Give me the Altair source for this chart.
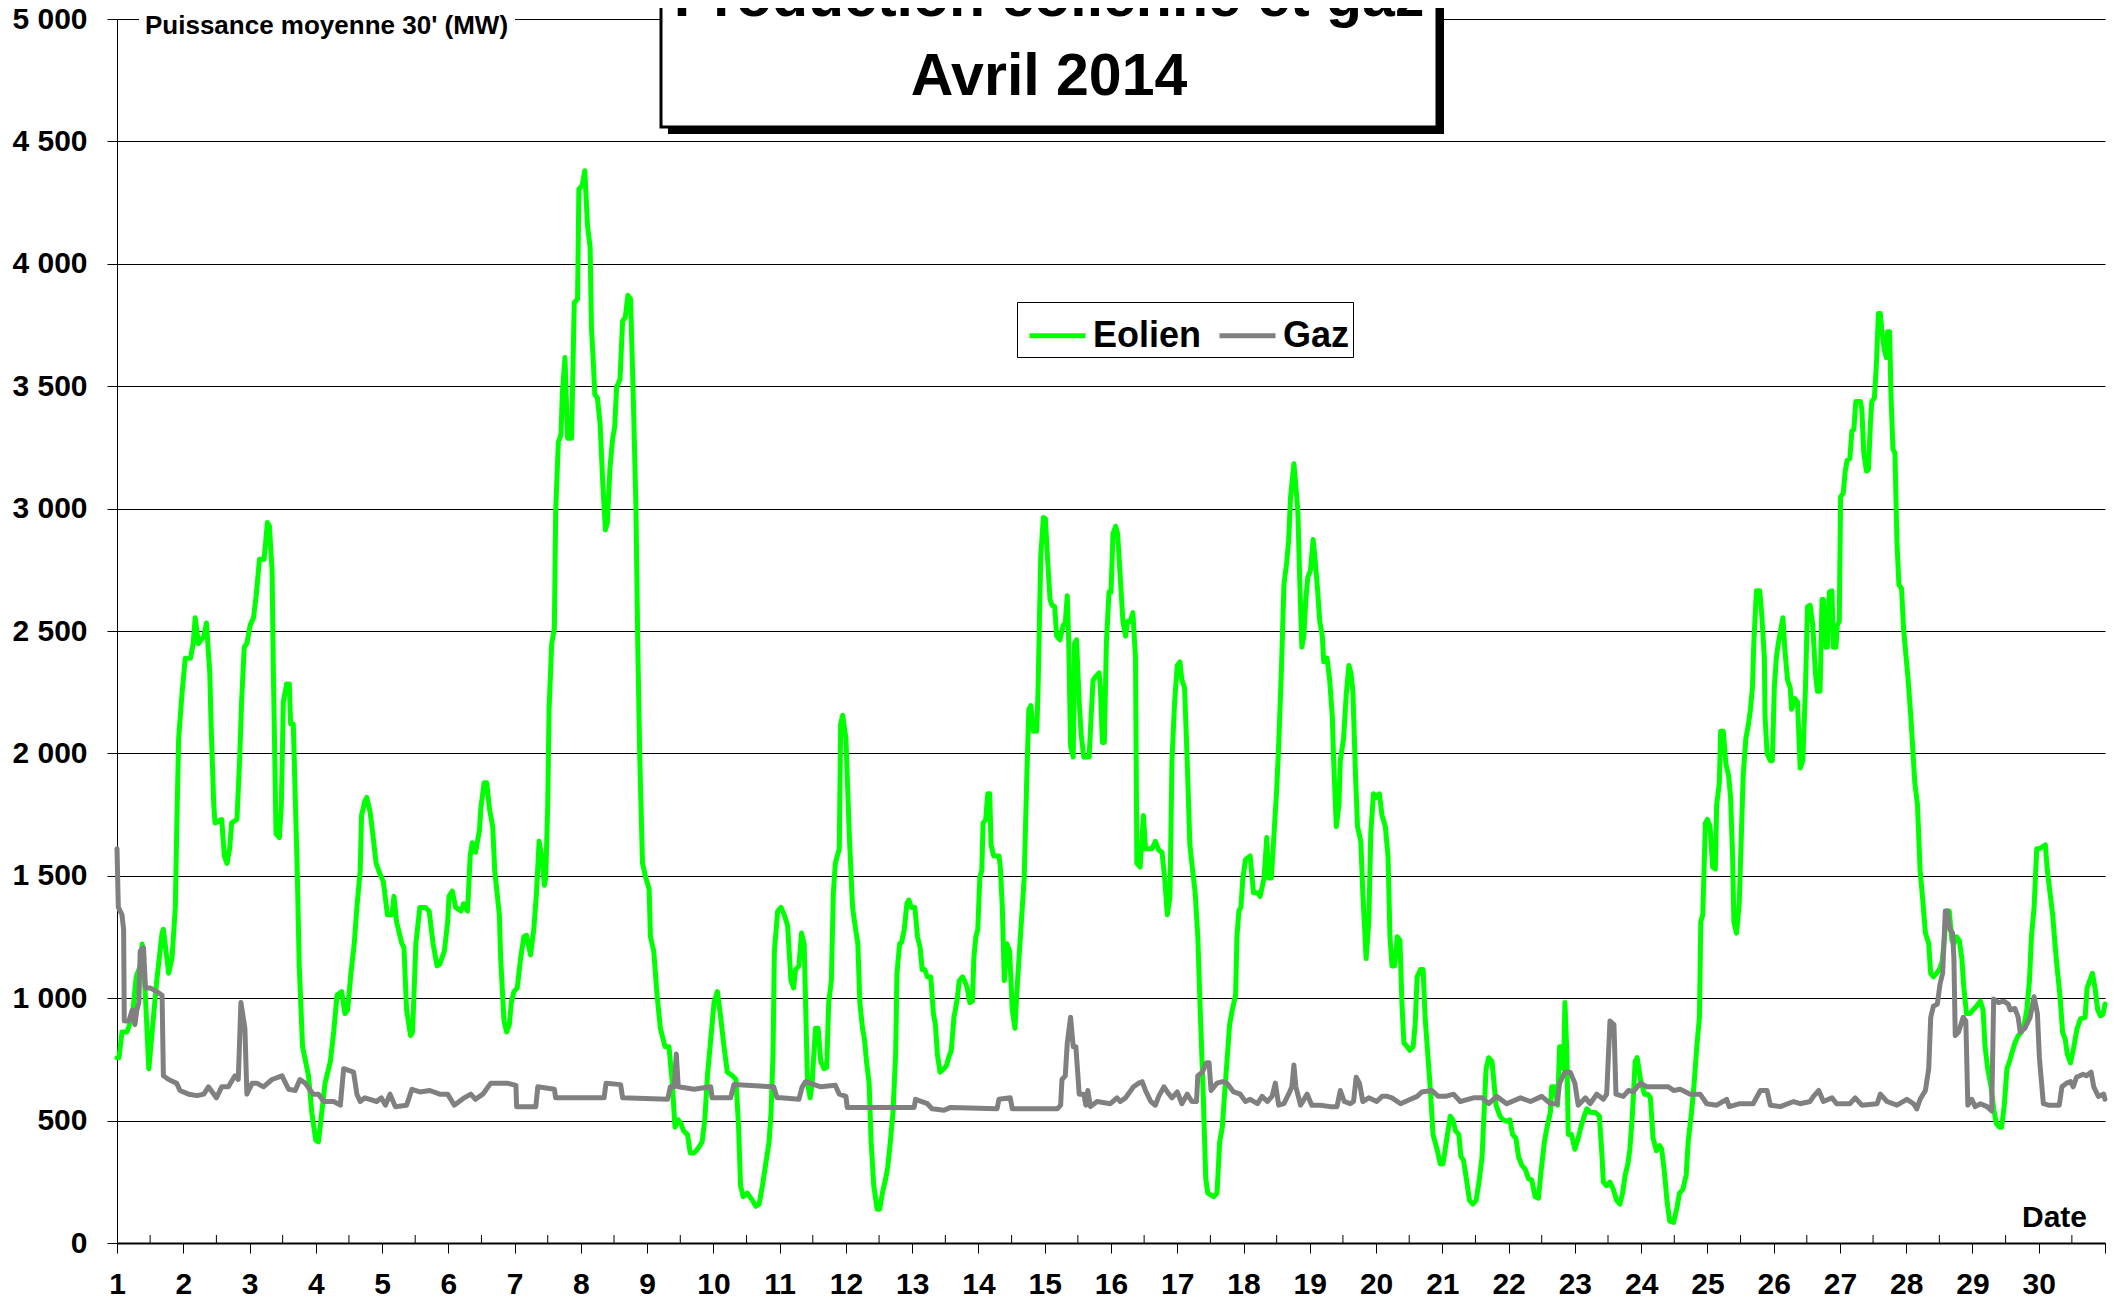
import altair as alt
import pandas as pd

# ---------------- data (day of April, MW) ----------------
day_ticks = list(range(1, 32))
half_days = [d + 0.5 for d in range(1, 31)]
mw_ticks = list(range(0, 5001, 500))
series_names = ["Eolien", "Gaz"]
series_colors = ["#00ff00", "#808080"]

eolien = [
    (1.00, 757), (1.03, 757), (1.075, 862), (1.15, 862), (1.23, 922), (1.29, 1087), (1.35, 1132), (1.38, 1221),
    (1.43, 1000), (1.48, 712), (1.55, 922), (1.60, 1072), (1.68, 1266), (1.70, 1281), (1.78, 1102), (1.83, 1162),
    (1.88, 1371), (1.90, 1671), (1.93, 2060), (1.98, 2240), (2.03, 2389), (2.11, 2389), (2.15, 2449), (2.18, 2554),
    (2.23, 2449), (2.31, 2479), (2.35, 2533), (2.40, 2329), (2.42, 2120), (2.46, 1790), (2.48, 1716), (2.58, 1730),
    (2.62, 1581), (2.66, 1551), (2.70, 1611), (2.73, 1716), (2.81, 1730), (2.85, 1970), (2.88, 2210), (2.92, 2434),
    (2.96, 2449), (3.01, 2524), (3.06, 2554), (3.10, 2644), (3.15, 2793), (3.22, 2793), (3.27, 2943), (3.30, 2928),
    (3.34, 2748), (3.36, 2329), (3.40, 1671), (3.45, 1656), (3.48, 1790), (3.51, 2210), (3.56, 2284), (3.60, 2284),
    (3.62, 2120), (3.66, 2120), (3.69, 1820), (3.72, 1521), (3.75, 1132), (3.80, 802), (3.89, 683), (3.94, 533),
    (4.00, 419), (4.04, 413), (4.09, 533), (4.14, 653), (4.22, 742), (4.27, 862), (4.32, 1012), (4.39, 1027),
    (4.44, 937), (4.48, 952), (4.53, 1102), (4.58, 1222), (4.62, 1371), (4.67, 1521), (4.69, 1746), (4.74, 1805),
    (4.77, 1820), (4.82, 1760), (4.86, 1671), (4.91, 1551), (4.97, 1506), (5.02, 1476), (5.08, 1341), (5.15, 1341),
    (5.18, 1416), (5.22, 1311), (5.30, 1222), (5.33, 1207), (5.37, 952), (5.43, 847), (5.46, 862), (5.51, 1222),
    (5.57, 1371), (5.65, 1371), (5.71, 1356), (5.77, 1222), (5.83, 1132), (5.87, 1138),
    (5.94, 1192), (5.99, 1311), (6.01, 1416), (6.06, 1437), (6.11, 1371), (6.19, 1356), (6.23, 1386), (6.29, 1356),
    (6.33, 1581), (6.36, 1635), (6.41, 1596), (6.47, 1686), (6.49, 1775), (6.54, 1880), (6.58, 1880), (6.62, 1775),
    (6.67, 1701), (6.70, 1521), (6.77, 1341), (6.79, 1162), (6.84, 907), (6.88, 862), (6.92, 892), (6.95, 982),
    (6.99, 1027), (7.04, 1042), (7.09, 1162), (7.14, 1251), (7.18, 1257), (7.24, 1177), (7.29, 1281), (7.33, 1431),
    (7.37, 1641), (7.41, 1581), (7.45, 1461), (7.47, 1491), (7.50, 1790), (7.52, 2180), (7.56, 2449), (7.60, 2509),
    (7.62, 2988), (7.66, 3272), (7.70, 3302), (7.72, 3467), (7.76, 3617), (7.80, 3287), (7.86, 3287), (7.90, 3841),
    (7.95, 3856), (7.97, 4305), (8.02, 4320), (8.06, 4380), (8.10, 4156), (8.14, 4066), (8.16, 3737), (8.19, 3587),
    (8.21, 3467), (8.25, 3452), (8.29, 3347), (8.33, 3108), (8.37, 2913), (8.40, 2943), (8.44, 3168), (8.48, 3287),
    (8.51, 3332), (8.54, 3497), (8.59, 3527), (8.63, 3766), (8.67, 3781), (8.71, 3871), (8.75, 3856), (8.79, 3467),
    (8.83, 3018), (8.86, 2419), (8.89, 1970), (8.93, 1551), (8.98, 1491), (9.03, 1446), (9.05, 1251), (9.10, 1192),
    (9.15, 1012), (9.20, 877), (9.27, 802), (9.33, 802), (9.38, 653), (9.42, 473), (9.47, 503), (9.51, 488),
    (9.55, 458), (9.61, 443), (9.65, 368), (9.71, 368), (9.76, 383), (9.83, 413), (9.87, 503), (9.91, 683),
    (9.97, 862), (10.01, 982), (10.06, 1027), (10.11, 922), (10.16, 802), (10.21, 698), (10.29, 683), (10.34, 668),
    (10.38, 473), (10.41, 234), (10.45, 189), (10.51, 204), (10.59, 174), (10.64, 150), (10.69, 159), (10.74, 234),
    (10.79, 323), (10.84, 413), (10.87, 533), (10.90, 772), (10.92, 1192), (10.97, 1356),
    (11.02, 1371), (11.07, 1341), (11.12, 1296), (11.17, 1072), (11.21, 1042), (11.24, 1117), (11.29, 1132),
    (11.33, 1266), (11.37, 1222), (11.42, 653), (11.46, 593), (11.49, 653), (11.54, 877), (11.58, 877), (11.62, 742),
    (11.67, 712), (11.71, 718), (11.74, 982), (11.78, 1072), (11.81, 1431), (11.84, 1551), (11.90, 1611),
    (11.92, 2120), (11.95, 2156), (12.00, 2060), (12.05, 1671), (12.10, 1371), (12.13, 1311), (12.18, 1222),
    (12.21, 982), (12.25, 877), (12.28, 832), (12.31, 742), (12.35, 653), (12.38, 413), (12.42, 234), (12.47, 138),
    (12.51, 138), (12.55, 204), (12.60, 263), (12.63, 308), (12.67, 413), (12.71, 533), (12.75, 772), (12.77, 1102),
    (12.81, 1222), (12.84, 1228), (12.88, 1281), (12.92, 1386), (12.95, 1401), (12.99, 1371), (13.04, 1371),
    (13.08, 1251), (13.12, 1207), (13.15, 1117), (13.19, 1117), (13.23, 1087), (13.28, 1087), (13.32, 937),
    (13.35, 892), (13.38, 772), (13.42, 698), (13.48, 712), (13.52, 727), (13.55, 757), (13.59, 787), (13.63, 922),
    (13.68, 997), (13.71, 1072), (13.76, 1087), (13.79, 1072), (13.83, 1042), (13.87, 982), (13.91, 988),
    (13.93, 1162), (13.96, 1251), (13.99, 1281), (14.02, 1491), (14.05, 1521), (14.07, 1716), (14.11, 1730),
    (14.14, 1835), (14.17, 1835), (14.19, 1626), (14.23, 1581), (14.31, 1581), (14.33, 1536), (14.36, 1371),
    (14.39, 1072), (14.43, 1222), (14.47, 1192), (14.51, 952), (14.55, 877), (14.59, 1072), (14.64, 1281),
    (14.69, 1491), (14.73, 1910), (14.76, 2180), (14.79, 2195), (14.83, 2090), (14.88, 2090), (14.90, 2269),
    (14.94, 2808), (14.98, 2964), (15.01, 2958), (15.04, 2808), (15.08, 2629), (15.11, 2605), (15.15, 2599),
    (15.18, 2479), (15.23, 2464), (15.28, 2524), (15.31, 2533), (15.34, 2644), (15.36, 2479), (15.39, 2030),
    (15.43, 1985), (15.45, 2449), (15.48, 2464), (15.52, 2210), (15.55, 2075), (15.59, 1985), (15.67, 1985),
    (15.70, 2150), (15.73, 2299), (15.77, 2314), (15.82, 2329), (15.84, 2269), (15.87, 2045), (15.90, 2045),
    (15.93, 2449), (15.97, 2659), (16.00, 2659), (16.03, 2898), (16.07, 2928), (16.10, 2898),
    (16.18, 2539), (16.22, 2479), (16.25, 2539), (16.29, 2539), (16.33, 2575), (16.37, 2389), (16.39, 1551),
    (16.44, 1536), (16.49, 1746), (16.52, 1611), (16.57, 1611), (16.62, 1611), (16.67, 1641), (16.72, 1605),
    (16.77, 1596), (16.81, 1491), (16.85, 1341), (16.89, 1416), (16.92, 1970), (16.96, 2210), (17.00, 2359),
    (17.04, 2374), (17.07, 2299), (17.11, 2269), (17.15, 1970), (17.19, 1626), (17.22, 1551), (17.27, 1431),
    (17.31, 1251), (17.35, 922), (17.39, 623), (17.43, 263), (17.46, 204), (17.55, 189), (17.60, 204), (17.64, 413),
    (17.68, 473), (17.71, 593), (17.75, 742), (17.79, 892), (17.83, 952), (17.88, 1012), (17.90, 1251),
    (17.93, 1356), (17.96, 1371), (17.99, 1491), (18.03, 1566), (18.10, 1581), (18.15, 1431), (18.21, 1431),
    (18.25, 1416), (18.31, 1491), (18.35, 1656), (18.38, 1491), (18.42, 1491), (18.46, 1671), (18.50, 1850),
    (18.53, 2030), (18.57, 2329), (18.61, 2689), (18.65, 2778), (18.68, 2868), (18.71, 3048), (18.76, 3183),
    (18.78, 3123), (18.82, 2988), (18.85, 2689), (18.88, 2434), (18.91, 2479), (18.94, 2629), (18.97, 2719),
    (19.01, 2748), (19.05, 2874), (19.08, 2793), (19.12, 2659), (19.15, 2539), (19.19, 2479), (19.21, 2374),
    (19.26, 2389), (19.30, 2299), (19.34, 2150), (19.36, 1970), (19.40, 1701), (19.44, 1790), (19.46, 1970),
    (19.51, 2060), (19.55, 2240), (19.59, 2359), (19.62, 2329), (19.65, 2254), (19.69, 1910), (19.72, 1701),
    (19.77, 1641), (19.80, 1431), (19.85, 1162), (19.89, 1311), (19.92, 1671), (19.96, 1835), (20.00, 1820),
    (20.05, 1835), (20.09, 1746), (20.14, 1701), (20.18, 1581), (20.21, 1251), (20.24, 1132), (20.28, 1132),
    (20.32, 1251), (20.36, 1237), (20.39, 982), (20.42, 817), (20.47, 802), (20.51, 787), (20.56, 802),
    (20.59, 892), (20.62, 1087), (20.67, 1117), (20.71, 1117), (20.74, 922), (20.78, 772), (20.82, 623),
    (20.86, 443), (20.92, 383), (20.97, 323), (21.01, 323), (21.06, 413), (21.12, 518), (21.16, 503), (21.20, 458),
    (21.25, 443), (21.28, 353), (21.32, 338), (21.37, 249), (21.41, 174), (21.46, 159), (21.51, 174),
    (21.56, 263), (21.60, 353), (21.63, 533), (21.66, 712), (21.70, 757), (21.75, 742), (21.77, 683), (21.81, 563),
    (21.87, 518), (21.92, 503), (21.97, 497), (22.02, 503), (22.06, 443), (22.11, 428), (22.15, 353), (22.20, 317),
    (22.25, 302), (22.30, 263), (22.35, 257), (22.40, 189), (22.45, 183), (22.49, 293), (22.54, 413), (22.58, 473),
    (22.63, 533), (22.65, 638), (22.70, 638), (22.74, 563), (22.77, 802), (22.80, 802), (22.83, 712), (22.85, 982),
    (22.88, 772), (22.90, 443), (22.95, 443), (23.00, 383), (23.05, 428), (23.09, 473), (23.14, 518), (23.18, 548),
    (23.24, 533), (23.31, 533), (23.37, 518), (23.41, 353), (23.43, 249), (23.48, 234), (23.53, 249), (23.58, 219),
    (23.63, 174), (23.68, 159), (23.72, 204), (23.76, 278), (23.80, 323), (23.83, 383), (23.87, 533), (23.91, 742),
    (23.94, 757), (23.99, 668), (24.05, 608), (24.10, 608), (24.14, 593), (24.18, 428), (24.23, 377), (24.28, 398),
    (24.31, 383), (24.35, 293), (24.39, 174), (24.43, 90), (24.49, 84), (24.54, 144), (24.58, 204), (24.63, 219),
    (24.68, 278), (24.71, 413), (24.76, 533), (24.80, 653), (24.84, 802), (24.88, 922), (24.90, 1311), (24.93, 1341),
    (24.97, 1716), (25.00, 1730), (25.04, 1701), (25.08, 1536), (25.12, 1527), (25.14, 1790), (25.18, 1880),
    (25.20, 2090), (25.24, 2090), (25.28, 1955), (25.32, 1910), (25.35, 1820), (25.38, 1581), (25.40, 1311),
    (25.44, 1266), (25.48, 1386), (25.52, 1730), (25.54, 1910), (25.58, 2060), (25.62, 2120), (25.65, 2180),
    (25.68, 2269), (25.70, 2449), (25.74, 2664), (25.79, 2664), (25.82, 2569), (25.86, 2389), (25.87, 2150),
    (25.90, 2000), (25.95, 1970), (25.98, 1970), (26.01, 2269), (26.04, 2389), (26.07, 2449), (26.11, 2509),
    (26.14, 2554), (26.17, 2419), (26.21, 2299), (26.25, 2269), (26.27, 2180), (26.32, 2224), (26.36, 2210),
    (26.40, 1940), (26.44, 1970), (26.48, 2269), (26.51, 2599), (26.55, 2605), (26.59, 2524), (26.63, 2329),
    (26.66, 2254), (26.70, 2254), (26.73, 2629), (26.75, 2629), (26.79, 2434), (26.81, 2434), (26.84, 2659),
    (26.88, 2664), (26.90, 2434), (26.94, 2434), (26.96, 2524), (26.99, 2539), (27.01, 3048), (27.05, 3063),
    (27.08, 3153), (27.11, 3198), (27.15, 3204), (27.18, 3317), (27.21, 3323), (27.24, 3437), (27.31, 3437),
    (27.33, 3407), (27.36, 3228), (27.40, 3153), (27.43, 3159), (27.46, 3347), (27.48, 3437), (27.52, 3452),
    (27.55, 3587), (27.58, 3797), (27.61, 3797), (27.63, 3737), (27.67, 3647), (27.70, 3617), (27.72, 3722),
    (27.75, 3722), (27.77, 3467), (27.80, 3242), (27.83, 3228), (27.86, 2868), (27.89, 2689), (27.93, 2674),
    (27.96, 2509), (28.00, 2389), (28.03, 2299), (28.07, 2150), (28.11, 1970), (28.13, 1880), (28.17, 1790),
    (28.21, 1521), (28.25, 1401), (28.29, 1266), (28.34, 1222), (28.37, 1102), (28.41, 1087), (28.46, 1102),
    (28.50, 1117), (28.54, 1147), (28.57, 1222), (28.61, 1356), (28.65, 1356), (28.69, 1237), (28.72, 1222),
    (28.76, 1251), (28.80, 1237), (28.84, 1162), (28.87, 1042), (28.91, 937), (28.96, 937), (29.01, 952),
    (29.06, 967), (29.12, 988), (29.16, 952), (29.19, 802), (29.23, 712), (29.28, 638), (29.32, 548), (29.36, 488),
    (29.41, 473), (29.44, 473), (29.48, 563), (29.52, 712), (29.56, 742), (29.59, 772), (29.64, 817), (29.69, 847),
    (29.74, 862), (29.78, 892), (29.82, 952), (29.86, 1072), (29.89, 1251), (29.93, 1371), (29.97, 1611),
    (30.01, 1611), (30.05, 1617), (30.10, 1626), (30.13, 1521), (30.17, 1431), (30.21, 1341), (30.25, 1207),
    (30.28, 1117), (30.32, 1012), (30.36, 862), (30.40, 832), (30.43, 772), (30.48, 736), (30.53, 802),
    (30.58, 877), (30.63, 916), (30.70, 922), (30.73, 1042), (30.77, 1072), (30.81, 1102), (30.85, 1042),
    (30.89, 952), (30.93, 928), (30.97, 935), (31.00, 976),
]

gaz = [
    (1.00, 1611), (1.02, 1371), (1.075, 1341), (1.10, 1281), (1.11, 907), (1.18, 907), (1.23, 952), (1.27, 892),
    (1.30, 952), (1.33, 982), (1.35, 1192), (1.40, 1207), (1.43, 1042), (1.50, 1042), (1.60, 1027), (1.68, 1012),
    (1.70, 683), (1.78, 668), (1.90, 653), (1.95, 623), (2.08, 608), (2.21, 602), (2.31, 608), (2.38, 638),
    (2.50, 593), (2.58, 638), (2.68, 638), (2.78, 683), (2.83, 668), (2.87, 982), (2.93, 877), (2.96, 608),
    (3.04, 653), (3.11, 653), (3.21, 638), (3.34, 668), (3.49, 683), (3.59, 628), (3.69, 623), (3.76, 668),
    (3.84, 653), (3.96, 608), (4.04, 608), (4.12, 578), (4.27, 578), (4.37, 563), (4.42, 712), (4.57, 698),
    (4.62, 608), (4.67, 578), (4.74, 593), (4.92, 578), (4.99, 593), (5.05, 563), (5.12, 608), (5.20, 557),
    (5.37, 563), (5.45, 628), (5.57, 617), (5.72, 623), (5.87, 608),
    (5.99, 608), (6.09, 563), (6.24, 593), (6.34, 608), (6.41, 587), (6.52, 608), (6.64, 653), (6.89, 653),
    (7.02, 644), (7.03, 557), (7.32, 557), (7.35, 638), (7.60, 628), (7.62, 593), (8.35, 593), (8.38, 653),
    (8.60, 647), (8.63, 593), (9.31, 587), (9.35, 638), (9.41, 638), (9.44, 772), (9.47, 638), (9.71, 628),
    (9.96, 638), (9.98, 593), (10.26, 593), (10.31, 647), (10.91, 638), (10.96, 593),
    (11.02, 593), (11.29, 587), (11.34, 638), (11.39, 659), (11.62, 638), (11.84, 644), (11.90, 608), (12.00, 599),
    (12.02, 554), (13.03, 554), (13.05, 587), (13.23, 569), (13.30, 548), (13.48, 542), (13.58, 554), (14.28, 548),
    (14.31, 587), (14.48, 593), (14.51, 548), (15.19, 548), (15.24, 563), (15.26, 668), (15.31, 683), (15.34, 817),
    (15.39, 922), (15.43, 802), (15.47, 802), (15.52, 608), (15.59, 608), (15.62, 563), (15.65, 623), (15.69, 557),
    (15.79, 578), (15.99, 569), (16.09, 593),
    (16.14, 578), (16.22, 593), (16.34, 638), (16.42, 653), (16.47, 659), (16.52, 623), (16.60, 578), (16.67, 563),
    (16.72, 599), (16.80, 638), (16.85, 617), (16.92, 593), (17.00, 617), (17.07, 569), (17.15, 608), (17.22, 578),
    (17.29, 578), (17.31, 683), (17.38, 698), (17.44, 736), (17.48, 736), (17.51, 623), (17.60, 653), (17.68, 659),
    (17.75, 653), (17.85, 617), (17.95, 608), (18.03, 578), (18.10, 587), (18.21, 569), (18.28, 599), (18.36, 578),
    (18.43, 599), (18.48, 653), (18.53, 563), (18.61, 569), (18.68, 608), (18.73, 638), (18.76, 727), (18.79, 638),
    (18.86, 563), (18.96, 608), (19.03, 563), (19.16, 563), (19.31, 557), (19.41, 557), (19.46, 623), (19.52, 578),
    (19.61, 569), (19.66, 578), (19.70, 677), (19.75, 653), (19.80, 578), (19.89, 593), (20.01, 578), (20.09, 599),
    (20.17, 599), (20.24, 593), (20.37, 569), (20.52, 587), (20.62, 599), (20.69, 617), (20.84, 623), (20.94, 599),
    (21.05, 599), (21.17, 608),
    (21.27, 578), (21.47, 593), (21.60, 593), (21.70, 569), (21.82, 599), (21.97, 569), (22.18, 593), (22.33, 578),
    (22.50, 599), (22.63, 569), (22.73, 569), (22.77, 653), (22.85, 698), (22.93, 698), (23.00, 653), (23.05, 563),
    (23.16, 593), (23.23, 569), (23.33, 608), (23.43, 587), (23.48, 608), (23.53, 907), (23.59, 892), (23.62, 608),
    (23.73, 599), (23.81, 623), (23.88, 617), (23.99, 653), (24.09, 638), (24.29, 638), (24.41, 638), (24.49, 623),
    (24.59, 628), (24.74, 608), (24.89, 608), (24.99, 569), (25.14, 563), (25.29, 587), (25.33, 557), (25.49, 569),
    (25.69, 569), (25.80, 623), (25.90, 623), (25.95, 563), (26.10, 557), (26.30, 578),
    (26.40, 569), (26.55, 578), (26.60, 599), (26.68, 623), (26.75, 578), (26.88, 593), (26.95, 569), (27.15, 569),
    (27.23, 593), (27.33, 563), (27.56, 569), (27.61, 608), (27.71, 578), (27.86, 563), (28.01, 587), (28.11, 569),
    (28.16, 548), (28.21, 587), (28.29, 623), (28.34, 712), (28.37, 922), (28.41, 967), (28.47, 976), (28.51, 1057),
    (28.55, 1102), (28.59, 1356), (28.62, 1356), (28.66, 1281), (28.70, 1266), (28.72, 1162), (28.74, 847),
    (28.79, 862), (28.86, 922), (28.90, 907), (28.93, 563), (28.99, 587), (29.04, 557), (29.12, 569), (29.22, 557),
    (29.29, 539), (29.32, 997), (29.39, 982), (29.47, 988), (29.54, 976), (29.57, 952), (29.64, 958), (29.69, 922),
    (29.72, 862), (29.79, 877), (29.87, 922), (29.93, 1006), (29.98, 937), (30.01, 757), (30.07, 569), (30.15, 563),
    (30.31, 563), (30.35, 638), (30.42, 653), (30.48, 659), (30.52, 638), (30.57, 677), (30.67, 689), (30.72, 683),
    (30.79, 698), (30.83, 638), (30.90, 599), (30.98, 608), (31.00, 587),
]

title_lines = ["Production éolienne et gaz", "Avril 2014"]
y_title = "Puissance moyenne 30' (MW)"
x_title = "Date"

# ---------------- build ----------------
rows = [{"jour": d, "mw": v, "serie": "Eolien"} for d, v in eolien]
rows += [{"jour": d, "mw": v, "serie": "Gaz"} for d, v in gaz]
df = pd.DataFrame(rows)

FONT = "Liberation Sans"
W, H = 1988, 1224

x_scale = alt.Scale(domain=[1, 31], nice=False, zero=False)
y_scale = alt.Scale(domain=[0, 5000], nice=False)

x_axis = alt.Axis(
    values=day_ticks, format="d", labelExpr="datum.value == 31 ? '' : datum.label",
    tickSize=10, tickColor="black", tickWidth=1, domainColor="black", domainWidth=2,
    labelFont=FONT, labelFontSize=30, labelFontWeight="bold", labelColor="black",
    labelBaseline="alphabetic", labelPadding=40, labelFlush=False, labelOverlap=False,
    grid=False, title=None)

y_axis = alt.Axis(
    values=mw_ticks, labelExpr="replace(format(datum.value, ','), ',', ' ')",
    tickSize=10, tickColor="black", tickWidth=1, domainColor="black", domainWidth=1,
    grid=True, gridColor="black", gridWidth=1, gridOpacity=1,
    labelFont=FONT, labelFontSize=30, labelFontWeight="bold", labelColor="black",
    labelPadding=20, title=None)

lines = alt.Chart(df).mark_line(strokeWidth=5, strokeJoin="round", strokeCap="round").encode(
    x=alt.X("jour:Q", scale=x_scale, axis=x_axis),
    y=alt.Y("mw:Q", scale=y_scale, axis=y_axis),
    color=alt.Color("serie:N", sort=series_names,
                    scale=alt.Scale(domain=series_names, range=series_colors),
                    legend=alt.Legend(orient="none", legendX=900, legendY=283, direction="horizontal",
                                      title=None, symbolType="stroke", symbolStrokeWidth=5, symbolSize=3136,
                                      symbolOffset=7,
                                      labelFont=FONT, labelFontSize=36, labelFontWeight="bold",
                                      labelColor="black", strokeColor="black", fillColor="white",
                                      padding=3, labelOffset=5, columnPadding=7)),
)

minor = alt.Chart(pd.DataFrame({"jour": half_days})).mark_rule(color="black", strokeWidth=1).encode(
    x=alt.X("jour:Q", scale=x_scale, axis=x_axis),
    y=alt.value(H - 8), y2=alt.value(H),
)

one = pd.DataFrame({"k": [0]})
shadow = alt.Chart(one).mark_rect(color="black").encode(
    x=alt.value(551), x2=alt.value(1327), y=alt.value(-40), y2=alt.value(115))
box = alt.Chart(one).mark_rect(fill="white", stroke="black", strokeWidth=3).encode(
    x=alt.value(544), x2=alt.value(1320), y=alt.value(-40), y2=alt.value(108))
t1 = alt.Chart(one).mark_text(font=FONT, fontSize=59, fontWeight="bold", color="black",
                              align="center", baseline="alphabetic").encode(
    x=alt.value(932), y=alt.value(-3), text=alt.value(title_lines[0]))
t2 = alt.Chart(one).mark_text(font=FONT, fontSize=59, fontWeight="bold", color="black",
                              align="center", baseline="alphabetic").encode(
    x=alt.value(932), y=alt.value(76), text=alt.value(title_lines[1]))
ywhite = alt.Chart(one).mark_rect(color="white").encode(
    x=alt.value(22), x2=alt.value(398), y=alt.value(-5), y2=alt.value(5))
ytxt = alt.Chart(one).mark_text(font=FONT, fontSize=26, fontWeight="bold", color="black",
                                align="left", baseline="alphabetic").encode(
    x=alt.value(28), y=alt.value(15), text=alt.value(y_title))
xtxt = alt.Chart(one).mark_text(font=FONT, fontSize=30, fontWeight="bold", color="black",
                                align="left", baseline="alphabetic").encode(
    x=alt.value(1905), y=alt.value(1208), text=alt.value(x_title))

chart = alt.layer(lines, minor, shadow, box, t1, t2, ywhite, ytxt, xtxt).properties(
    width=W, height=H,
    autosize=alt.AutoSizeParams(type="none"),
    padding={"left": 109, "top": 11, "right": 10, "bottom": 58},
    background="white",
).configure_view(stroke=None)

chart.save("out.html", embed_options={"renderer": "svg", "actions": False})
